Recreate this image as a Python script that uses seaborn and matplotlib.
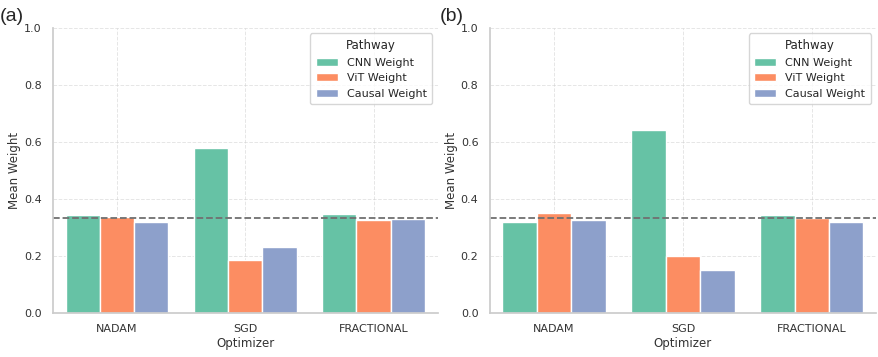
import pandas as pd
import seaborn as sns
import matplotlib.pyplot as plt

# --- DATA ---
optimizers = ['NADAM', 'SGD', 'FRACTIONAL']
pathways = ['CNN Weight', 'ViT Weight', 'Causal Weight']

# panel (a)
cnn_a = [0.344, 0.580, 0.348]
vit_a = [0.338, 0.186, 0.325]
causal_a = [0.320, 0.233, 0.329]

# panel (b)
cnn_b = [0.319, 0.643, 0.345]
vit_b = [0.351, 0.199, 0.333]
causal_b = [0.326, 0.152, 0.319]

panel_labels = ['(a)', '(b)']
uniform_weight = 1 / 3

sns.set_theme(style="whitegrid")
plt.rcParams['font.family'] = ['DejaVu Sans']


def make_df(cnn, vit, causal):
    rows = []
    for name, vals in zip(pathways, [cnn, vit, causal]):
        for opt, v in zip(optimizers, vals):
            rows.append({'Optimizer': opt, 'Pathway': name, 'Mean Weight': v})
    return pd.DataFrame(rows)


def draw_panel(ax, df):
    sns.barplot(data=df, x='Optimizer', y='Mean Weight', hue='Pathway',
                order=optimizers, hue_order=pathways, palette='Set2',
                saturation=1, edgecolor='white', linewidth=1, ax=ax)
    ax.axhline(uniform_weight, color='#707070', linestyle='--', linewidth=1.3)
    ax.set_ylim(0, 1.0)
    ax.set_yticks([0.0, 0.2, 0.4, 0.6, 0.8, 1.0])
    ax.grid(True, linestyle='--', alpha=0.5, linewidth=0.7)
    ax.tick_params(labelsize=8, colors='#333333', pad=2)
    ax.set_xlabel('Optimizer', fontsize=8.5, color='#333333', labelpad=2)
    ax.set_ylabel('Mean Weight', fontsize=8.5, color='#333333', labelpad=2)
    for side in ['top', 'right']:
        ax.spines[side].set_visible(False)
    for side in ['left', 'bottom']:
        ax.spines[side].set_color('#cccccc')
    leg = ax.legend(title='Pathway', loc='upper right', fontsize=8,
                    title_fontsize=8.5, frameon=True, borderpad=0.5,
                    handlelength=2.0, labelspacing=0.5)
    leg.get_frame().set_edgecolor('#cccccc')


fig = plt.figure(figsize=(8.79, 3.57), dpi=100)
ax1 = fig.add_axes([0.060, 0.123, 0.438, 0.799])
ax2 = fig.add_axes([0.557, 0.123, 0.440, 0.799])

draw_panel(ax1, make_df(cnn_a, vit_a, causal_a))
draw_panel(ax2, make_df(cnn_b, vit_b, causal_b))

fig.text(0.0, 0.955, panel_labels[0], fontsize=14, family='Liberation Sans', va='center')
fig.text(0.500, 0.955, panel_labels[1], fontsize=14, family='Liberation Sans', va='center')

plt.savefig('out.png', dpi=100)
plt.close()
